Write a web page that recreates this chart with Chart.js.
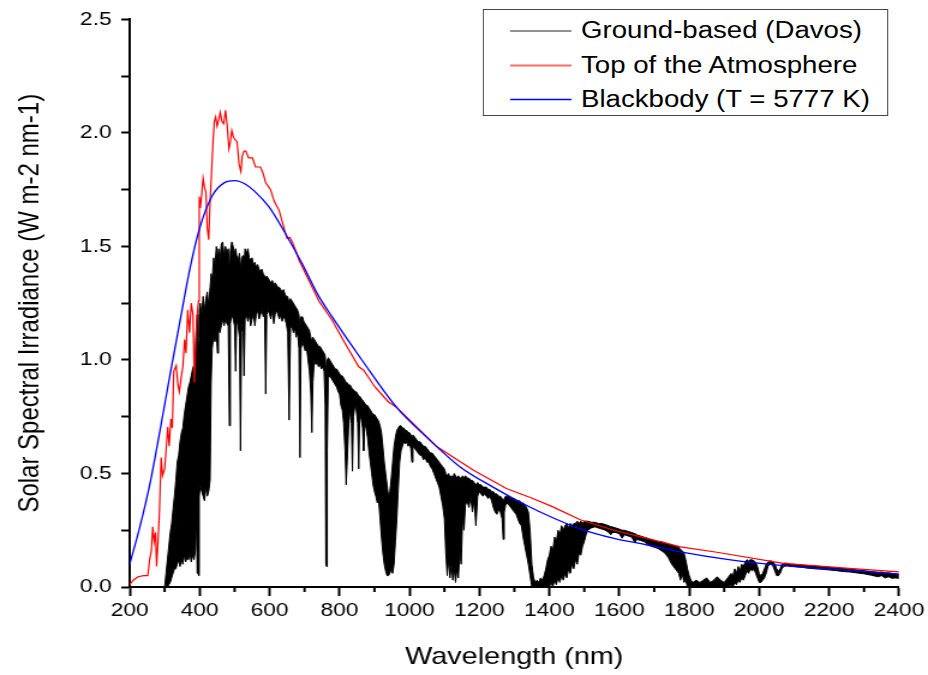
<!DOCTYPE html>
<html>
<head>
<meta charset="utf-8">
<title>Solar spectral irradiance</title>
<script src="https://cdn.jsdelivr.net/npm/chart.js@4.4.1/dist/chart.umd.min.js"></script>
<style>
  html, body { margin: 0; padding: 0; background: #fff; overflow: hidden; }
  /* the picture is a horizontally stretched plot, so the whole stage is stretched the same way */
  #stage { position: absolute; left: 0; top: 0; width: 773px; height: 675px;
           transform: scaleX(1.20052); transform-origin: 0 0; }
  #chart { position: absolute; left: 0; top: 0; }
  #legend { position: absolute; left: 402px; top: 9px; width: 338px; height: 107px;
            box-sizing: border-box; border: 1.5px solid #444; background: #fff; z-index: 2;
            font-family: Arial, "Liberation Sans", sans-serif; font-size: 23px; color: #000; }
  #legend svg { position: absolute; left: 0; top: 0; }
  .lbl { position: absolute; left: 81px; white-space: nowrap; line-height: 23px; }
</style>
</head>
<body>
<div id="stage">
  <canvas id="chart" width="773" height="675"></canvas>
  <div id="legend">
    <svg width="80" height="104" xmlns="http://www.w3.org/2000/svg">
      <line id="sw0" x1="22" x2="73" y1="21" y2="21" />
      <line id="sw1" x1="22" x2="73" y1="55.5" y2="55.5" />
      <line id="sw2" x1="22" x2="73" y1="89.5" y2="89.5" />
    </svg>
  </div>
</div>
<script>
// legend
const seriesNames  = ['Ground-based (Davos)', 'Top of the Atmosphere', 'Blackbody (T = 5777 K)'];
const seriesColors = ['#000000', '#ff0000', '#0000ff'];

// x axis minor ticks (nm)
const xMinorTicks = [300, 500, 700, 900, 1100, 1300, 1500, 1700, 1900, 2100, 2300];

// Blackbody (T = 5777 K)
const bbNm  = [200, 230, 260, 288, 316, 345, 372, 400, 435, 470, 502, 530, 556, 598, 646, 693, 741, 779, 864, 964,
               1049, 1144, 1239, 1334, 1410, 1490, 1585, 1680, 1775, 1908, 2069, 2258, 2400];
const bbVal = [0.10, 0.27, 0.47, 0.70, 0.94, 1.18, 1.40, 1.58, 1.72, 1.78, 1.79, 1.775, 1.745, 1.675, 1.555, 1.425, 1.28, 1.19, 1.00, 0.79,
               0.66, 0.53, 0.44, 0.36, 0.305, 0.255, 0.214, 0.185, 0.155, 0.122, 0.094, 0.072, 0.057];

// Top of the Atmosphere
const toaNm  = [200, 210, 224, 240, 252, 257, 262, 266, 270, 274, 277, 281, 285, 290, 294, 300, 304, 309, 313, 318,
                322, 326, 333, 338, 342, 347, 352, 357, 361, 366, 371, 376, 381, 385, 390, 394, 397, 399, 402, 406,
                410, 414, 418, 422, 426, 430, 434, 438, 442, 446, 450, 455, 459, 464, 469, 474, 479, 484, 488, 492,
                497, 502, 507, 513, 518, 522, 527, 532, 540, 551, 560, 574, 582, 589, 603, 613, 627, 636, 650, 658,
                665, 675, 684, 703, 722, 741, 779, 817, 855, 869, 902, 940, 964, 1011, 1077, 1182, 1277, 1353, 1410, 1490,
                1585, 1680, 1775, 1879, 2069, 2258, 2400];
const toaVal = [0.01, 0.03, 0.045, 0.05, 0.05, 0.12, 0.16, 0.265, 0.20, 0.24, 0.09, 0.20, 0.325, 0.57, 0.49, 0.52, 0.60, 0.705, 0.62, 0.74,
                0.70, 0.95, 0.975, 0.89, 0.86, 0.92, 0.97, 1.09, 1.03, 1.22, 1.12, 1.25, 1.20, 0.90, 1.12, 1.22, 1.26, 1.72, 1.67, 1.73,
                1.80, 1.76, 1.74, 1.58, 1.53, 1.70, 1.82, 1.95, 2.05, 2.07, 2.03, 2.06, 2.09, 2.05, 2.04, 2.10, 2.03, 1.93, 1.96, 2.01,
                1.98, 1.97, 1.96, 1.86, 1.83, 1.90, 1.92, 1.92, 1.89, 1.89, 1.85, 1.85, 1.82, 1.78, 1.75, 1.70, 1.66, 1.61, 1.535, 1.54,
                1.52, 1.48, 1.44, 1.38, 1.32, 1.26, 1.175, 1.07, 0.97, 0.955, 0.88, 0.815, 0.79, 0.72, 0.62, 0.515, 0.434, 0.39, 0.353, 0.295,
                0.25, 0.214, 0.177, 0.153, 0.104, 0.082, 0.067];

// Ground-based (Davos): the dense spectrum read as the top and bottom of its black band
const groundNm = [
  300, 304, 308, 312, 316, 320, 324, 328, 332, 336,
  340, 344, 348, 352, 356, 360, 364, 368, 372, 376,
  380, 384, 388, 391, 393, 395, 397, 399, 402, 406,
  410, 414, 418, 422, 426, 430, 433, 436, 440, 444,
  448, 451, 454, 458, 462, 466, 470, 474, 478, 482,
  485, 488, 492, 496, 500, 503, 506, 510, 514, 517,
  520, 524, 527, 530, 534, 538, 542, 546, 550, 554,
  558, 562, 566, 570, 574, 578, 582, 586, 589, 592,
  596, 600, 604, 608, 612, 616, 620, 624, 628, 632,
  636, 640, 644, 648, 652, 656, 660, 664, 668, 672,
  676, 680, 684, 687, 690, 694, 698, 702, 706, 710,
  714, 718, 721, 724, 728, 732, 736, 740, 744, 748,
  752, 756, 759, 761, 763, 765, 768, 772, 776, 780,
  784, 788, 792, 796, 800, 804, 808, 812, 816, 819,
  822, 826, 830, 834, 837, 840, 844, 848, 852, 855,
  858, 862, 866, 869, 872, 876, 880, 884, 888, 892,
  896, 900, 904, 908, 912, 916, 920, 924, 928, 932,
  936, 940, 944, 948, 952, 956, 960, 964, 968, 972,
  976, 980, 984, 988, 992, 996, 1000, 1004, 1007, 1010,
  1015, 1020, 1025, 1030, 1035, 1040, 1045, 1050, 1055, 1060,
  1065, 1070, 1075, 1080, 1085, 1090, 1095, 1100, 1104, 1108,
  1112, 1116, 1120, 1124, 1128, 1132, 1136, 1140, 1144, 1148,
  1152, 1156, 1160, 1165, 1170, 1175, 1180, 1185, 1190, 1195,
  1200, 1205, 1210, 1215, 1220, 1225, 1230, 1235, 1240, 1245,
  1250, 1255, 1260, 1265, 1268, 1271, 1275, 1280, 1285, 1290,
  1295, 1300, 1305, 1310, 1315, 1320, 1325, 1330, 1335, 1340,
  1345, 1350, 1355, 1360, 1365, 1370, 1375, 1380, 1385, 1390,
  1395, 1400, 1405, 1410, 1415, 1420, 1425, 1430, 1435, 1440,
  1445, 1450, 1455, 1460, 1465, 1470, 1475, 1480, 1485, 1490,
  1495, 1500, 1505, 1510, 1520, 1530, 1540, 1550, 1560, 1570,
  1576, 1580, 1590, 1600, 1608, 1615, 1625, 1635, 1645, 1650,
  1660, 1670, 1680, 1690, 1700, 1710, 1720, 1730, 1740, 1750,
  1760, 1770, 1775, 1780, 1785, 1790, 1795, 1800, 1805, 1810,
  1820, 1830, 1840, 1850, 1860, 1870, 1880, 1890, 1900, 1910,
  1920, 1925, 1930, 1935, 1940, 1945, 1950, 1955, 1960, 1965,
  1970, 1975, 1980, 1985, 1990, 1995, 2000, 2005, 2010, 2015,
  2020, 2025, 2030, 2035, 2040, 2045, 2050, 2055, 2060, 2065,
  2070, 2080, 2090, 2100, 2120, 2140, 2160, 2180, 2200, 2220,
  2240, 2260, 2280, 2300, 2320, 2340, 2350, 2360, 2370, 2380,
  2390, 2400
];
const groundTop = [
  0.00, 0.06, 0.12, 0.18, 0.24, 0.28, 0.34, 0.40, 0.47, 0.55,
  0.58, 0.64, 0.68, 0.70, 0.76, 0.80, 0.84, 0.88, 0.90, 0.93,
  0.96, 0.98, 1.04, 1.15, 1.20, 1.10, 1.05, 1.22, 1.25, 1.20,
  1.28, 1.22, 1.27, 1.30, 1.24, 1.32, 1.38, 1.35, 1.45, 1.42,
  1.50, 1.46, 1.49, 1.44, 1.51, 1.52, 1.46, 1.50, 1.47, 1.49,
  1.42, 1.48, 1.52, 1.50, 1.47, 1.49, 1.46, 1.44, 1.47, 1.40,
  1.45, 1.46, 1.43, 1.49, 1.47, 1.49, 1.45, 1.44, 1.45, 1.42,
  1.43, 1.41, 1.42, 1.40, 1.39, 1.40, 1.38, 1.37, 1.36, 1.37,
  1.36, 1.35, 1.34, 1.35, 1.33, 1.34, 1.33, 1.32, 1.32, 1.31,
  1.30, 1.31, 1.29, 1.28, 1.28, 1.25, 1.27, 1.26, 1.25, 1.24,
  1.23, 1.22, 1.20, 1.15, 1.19, 1.19, 1.17, 1.16, 1.15, 1.14,
  1.13, 1.10, 1.08, 1.10, 1.09, 1.08, 1.07, 1.06, 1.06, 1.05,
  1.04, 1.03, 1.02, 0.98, 0.95, 1.00, 1.01, 1.00, 0.99, 0.98,
  0.97, 0.96, 0.96, 0.95, 0.94, 0.93, 0.93, 0.92, 0.91, 0.90,
  0.90, 0.89, 0.89, 0.88, 0.87, 0.87, 0.86, 0.86, 0.85, 0.84,
  0.84, 0.83, 0.82, 0.82, 0.81, 0.80, 0.80, 0.79, 0.78, 0.77,
  0.76, 0.76, 0.75, 0.74, 0.73, 0.71, 0.68, 0.62, 0.55, 0.50,
  0.45, 0.40, 0.42, 0.48, 0.55, 0.62, 0.66, 0.69, 0.70, 0.71,
  0.71, 0.70, 0.70, 0.69, 0.69, 0.68, 0.68, 0.67, 0.66, 0.67,
  0.66, 0.65, 0.64, 0.64, 0.63, 0.62, 0.62, 0.61, 0.60, 0.59,
  0.59, 0.58, 0.57, 0.56, 0.55, 0.54, 0.53, 0.52, 0.50, 0.49,
  0.50, 0.48, 0.49, 0.48, 0.50, 0.49, 0.48, 0.49, 0.48, 0.48,
  0.49, 0.48, 0.49, 0.48, 0.48, 0.47, 0.47, 0.46, 0.45, 0.46,
  0.45, 0.45, 0.44, 0.44, 0.44, 0.43, 0.43, 0.42, 0.42, 0.41,
  0.41, 0.40, 0.40, 0.39, 0.38, 0.39, 0.40, 0.40, 0.40, 0.39,
  0.39, 0.39, 0.38, 0.38, 0.38, 0.37, 0.37, 0.36, 0.35, 0.33,
  0.25, 0.10, 0.04, 0.02, 0.03, 0.02, 0.04, 0.03, 0.05, 0.08,
  0.12, 0.14, 0.18, 0.16, 0.22, 0.20, 0.25, 0.23, 0.27, 0.25,
  0.27, 0.28, 0.26, 0.28, 0.27, 0.28, 0.28, 0.29, 0.28, 0.29,
  0.28, 0.29, 0.29, 0.29, 0.285, 0.285, 0.28, 0.28, 0.275, 0.27,
  0.265, 0.265, 0.26, 0.255, 0.25, 0.25, 0.245, 0.24, 0.235, 0.23,
  0.225, 0.22, 0.215, 0.21, 0.205, 0.20, 0.20, 0.195, 0.19, 0.185,
  0.18, 0.175, 0.165, 0.16, 0.15, 0.12, 0.08, 0.05, 0.03, 0.02,
  0.03, 0.02, 0.03, 0.04, 0.02, 0.03, 0.045, 0.03, 0.02, 0.04,
  0.06, 0.05, 0.08, 0.06, 0.09, 0.07, 0.10, 0.09, 0.11, 0.12,
  0.115, 0.12, 0.12, 0.115, 0.11, 0.09, 0.06, 0.05, 0.06, 0.08,
  0.10, 0.11, 0.115, 0.115, 0.11, 0.10, 0.08, 0.07, 0.08, 0.10,
  0.105, 0.105, 0.10, 0.10, 0.097, 0.094, 0.092, 0.090, 0.087, 0.084,
  0.081, 0.078, 0.075, 0.072, 0.068, 0.065, 0.066, 0.062, 0.063, 0.060,
  0.058, 0.055
];
const groundLow = [
  0.00, 0.00, 0.00, 0.01, 0.02, 0.04, 0.06, 0.08, 0.08, 0.10,
  0.12, 0.09, 0.12, 0.10, 0.14, 0.11, 0.13, 0.12, 0.15, 0.11,
  0.14, 0.12, 0.16, 0.30, 0.06, 0.20, 0.05, 0.40, 0.45, 0.42,
  0.40, 0.38, 0.44, 0.40, 0.42, 0.47, 0.90, 1.05, 1.10, 1.08,
  1.12, 1.03, 1.14, 1.12, 1.15, 1.18, 1.15, 1.18, 1.16, 1.15,
  0.71, 1.16, 1.20, 1.18, 1.15, 0.95, 1.18, 1.15, 1.10, 0.60,
  1.12, 1.18, 0.93, 1.18, 1.20, 1.17, 1.20, 1.15, 1.18, 1.20,
  1.15, 1.20, 1.22, 1.18, 1.20, 1.22, 1.19, 1.20, 0.85, 1.20,
  1.22, 1.20, 1.18, 1.22, 1.16, 1.20, 1.22, 1.20, 1.18, 1.20,
  1.17, 1.19, 1.18, 1.16, 1.12, 0.735, 1.14, 1.15, 1.12, 1.14,
  1.10, 1.12, 1.05, 0.57, 1.05, 1.08, 1.06, 1.04, 1.05, 1.00,
  0.95, 0.85, 0.68, 0.90, 1.00, 0.98, 0.99, 0.97, 0.98, 0.96,
  0.97, 0.95, 0.80, 0.10, 0.09, 0.60, 0.92, 0.93, 0.92, 0.91,
  0.90, 0.89, 0.88, 0.86, 0.85, 0.80, 0.78, 0.72, 0.60, 0.45,
  0.55, 0.70, 0.78, 0.72, 0.51, 0.75, 0.80, 0.78, 0.72, 0.52,
  0.76, 0.74, 0.70, 0.60, 0.72, 0.70, 0.66, 0.60, 0.55, 0.50,
  0.45, 0.42, 0.40, 0.37, 0.38, 0.30, 0.22, 0.15, 0.10, 0.07,
  0.05, 0.05, 0.06, 0.08, 0.06, 0.10, 0.20, 0.30, 0.43, 0.55,
  0.60, 0.62, 0.64, 0.63, 0.64, 0.62, 0.63, 0.61, 0.55, 0.62,
  0.61, 0.60, 0.59, 0.58, 0.58, 0.56, 0.57, 0.55, 0.55, 0.53,
  0.52, 0.50, 0.48, 0.46, 0.44, 0.40, 0.36, 0.30, 0.15, 0.05,
  0.12, 0.04, 0.10, 0.03, 0.08, 0.02, 0.08, 0.04, 0.15, 0.10,
  0.30, 0.25, 0.36, 0.38, 0.35, 0.40, 0.33, 0.38, 0.27, 0.40,
  0.42, 0.41, 0.40, 0.41, 0.40, 0.39, 0.40, 0.38, 0.35, 0.33,
  0.32, 0.34, 0.33, 0.30, 0.21, 0.33, 0.36, 0.37, 0.36, 0.35,
  0.34, 0.33, 0.32, 0.30, 0.28, 0.27, 0.22, 0.18, 0.14, 0.10,
  0.05, 0.00, 0.00, 0.00, 0.00, 0.00, 0.00, 0.00, 0.00, 0.00,
  0.01, 0.00, 0.02, 0.00, 0.03, 0.01, 0.04, 0.02, 0.05, 0.03,
  0.06, 0.04, 0.08, 0.06, 0.10, 0.08, 0.12, 0.10, 0.15, 0.14,
  0.18, 0.20, 0.23, 0.25, 0.26, 0.265, 0.26, 0.255, 0.25, 0.24,
  0.23, 0.24, 0.24, 0.235, 0.215, 0.23, 0.225, 0.22, 0.195, 0.21,
  0.205, 0.20, 0.19, 0.18, 0.175, 0.17, 0.16, 0.15, 0.13, 0.10,
  0.08, 0.06, 0.03, 0.06, 0.02, 0.03, 0.00, 0.01, 0.00, 0.00,
  0.00, 0.00, 0.00, 0.00, 0.00, 0.00, 0.00, 0.00, 0.00, 0.00,
  0.01, 0.00, 0.02, 0.01, 0.03, 0.02, 0.04, 0.03, 0.05, 0.07,
  0.06, 0.08, 0.07, 0.08, 0.06, 0.04, 0.02, 0.02, 0.03, 0.04,
  0.06, 0.09, 0.10, 0.10, 0.09, 0.07, 0.05, 0.05, 0.06, 0.08,
  0.09, 0.095, 0.09, 0.09, 0.087, 0.083, 0.080, 0.078, 0.075, 0.072,
  0.068, 0.066, 0.062, 0.058, 0.052, 0.045, 0.050, 0.040, 0.045, 0.038,
  0.040, 0.038
];

if (groundNm.length !== groundTop.length || groundNm.length !== groundLow.length ||
    toaNm.length !== toaVal.length || bbNm.length !== bbVal.length) {
  throw new Error('length mismatch ' + [groundNm.length, groundTop.length, groundLow.length,
    toaNm.length, toaVal.length, bbNm.length, bbVal.length].join(','));
}

const FONT = 'Arial, "Liberation Sans", sans-serif';
const pts = (xs, ys) => xs.map((x, i) => ({ x: x, y: ys[i] }));

// legend (html + svg, drawn over the chart)
const legendBox = document.getElementById('legend');
const rowMid = [21, 55.5, 89.5];
const swatchStroke = ['#222222', '#ff6a6a', '#0000ff'];
const swatchWidth  = [1, 2, 1.3];
seriesNames.forEach((name, i) => {
  const ln = document.getElementById('sw' + i);
  ln.setAttribute('stroke', swatchStroke[i]);
  ln.setAttribute('stroke-width', swatchWidth[i]);
  const t = document.createElement('div');
  t.className = 'lbl';
  t.style.top = (rowMid[i] - 12) + 'px';
  t.textContent = name;
  legendBox.appendChild(t);
});

// short minor ticks on the wavelength axis
const minorTicks = {
  id: 'minorTicks',
  afterDraw(chart) {
    const xs = chart.scales.x;
    const c = chart.ctx;
    c.save();
    c.strokeStyle = '#000';
    c.lineWidth = 2;
    xMinorTicks.forEach(v => {
      const px = xs.getPixelForValue(v);
      c.beginPath();
      c.moveTo(px, xs.top);
      c.lineTo(px, xs.top + 5);
      c.stroke();
    });
    c.restore();
  }
};

new Chart(document.getElementById('chart'), {
  type: 'line',
  data: {
    datasets: [
      { label: seriesNames[2], data: pts(bbNm, bbVal), borderColor: seriesColors[2], borderWidth: 1.3,
        pointRadius: 0, cubicInterpolationMode: 'monotone', fill: false },
      { label: seriesNames[1], data: pts(toaNm, toaVal), borderColor: seriesColors[1], borderWidth: 1.2,
        pointRadius: 0, tension: 0, fill: false },
      { label: seriesNames[0], data: pts(groundNm, groundTop), borderColor: seriesColors[0], borderWidth: 1,
        pointRadius: 0, tension: 0, fill: false },
      { label: seriesNames[0] + ' (band)', data: pts(groundNm, groundLow), borderColor: seriesColors[0], borderWidth: 1,
        pointRadius: 0, tension: 0, fill: '-1', backgroundColor: seriesColors[0] }
    ]
  },
  options: {
    responsive: false,
    animation: false,
    devicePixelRatio: 1,
    layout: { padding: { top: 19, right: 21, left: 0, bottom: 0 } },
    plugins: { legend: { display: false }, tooltip: { enabled: false } },
    scales: {
      x: {
        type: 'linear', min: 200, max: 2400,
        afterFit: s => { s.height = 88; },
        border: { display: true, color: '#000', width: 2 },
        grid: { drawOnChartArea: false, drawTicks: true, tickLength: 9, tickColor: '#000', tickWidth: 2 },
        ticks: { stepSize: 200, autoSkip: false, maxRotation: 0, color: '#000', padding: 3,
                 font: { family: FONT, size: 19 }, callback: v => String(v) },
        title: { display: true, text: 'Wavelength (nm)', color: '#000',
                 font: { family: FONT, size: 24 }, padding: { top: 0, bottom: 3 } }
      },
      y: {
        min: 0, max: 2.5,
        afterFit: s => { s.width = 108; },
        border: { display: true, color: '#000', width: 2 },
        grid: { drawOnChartArea: false, drawTicks: true, tickLength: 7, tickColor: '#000', tickWidth: 2 },
        ticks: { stepSize: 0.25, autoSkip: false, color: '#000', padding: 8,
                 font: { family: FONT, size: 19 },
                 callback: v => (Math.abs(v * 2 - Math.round(v * 2)) < 1e-6 ? v.toFixed(1) : '') },
        title: { display: true, text: 'Solar Spectral Irradiance (W m-2 nm-1)', color: '#000',
                 font: { family: FONT, size: 24 }, padding: { top: 11, bottom: 0 } }
      }
    }
  },
  plugins: [minorTicks]
});
</script>
</body>
</html>
